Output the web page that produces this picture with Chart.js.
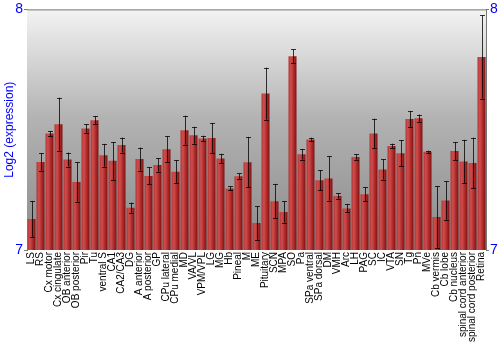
<!DOCTYPE html>
<html>
<head>
<meta charset="utf-8">
<script src="https://cdn.jsdelivr.net/npm/chart.js@4"></script>
<style>
  html, body { margin: 0; padding: 0; background: #fff; }
  #wrap { width: 500px; height: 350px; }
</style>
</head>
<body>
<div id="wrap"><canvas id="chart"></canvas></div>
<script>
// brain regions
const regions = ["LS", "RS", "Cx motor", "Cx cingulate", "OB anterior", "OB posterior", "Pir", "Tu",
  "ventral S", "CA1", "CA2/CA3", "DG", "A anterior", "A posterior", "GP", "CPu lateral", "CPu medial",
  "MD", "VA/VL", "VPM/VPL", "LG", "MG", "Hb", "Pineal", "M", "ME", "Pituitary", "SCN", "MPA", "SO",
  "Pa", "SPa ventral", "SPa dorsal", "DM", "VMH", "Arc", "LH", "PAG", "SC", "IC", "VTA", "SN", "Tg",
  "Pn", "MVe", "Cb vermis", "Cb lobe", "Cb nucleus", "spinal cord anterior", "spinal cord posterior", "Retina"];

// mean log2 expression
const expression = [7.129, 7.366, 7.484, 7.523, 7.376, 7.283, 7.505, 7.539,
  7.394, 7.371, 7.436, 7.176, 7.378, 7.308, 7.353, 7.419, 7.325,
  7.498, 7.477, 7.463, 7.465, 7.380, 7.256, 7.307, 7.365, 7.112, 7.650, 7.203, 7.158, 7.805,
  7.398, 7.459, 7.290, 7.297, 7.224, 7.173, 7.387, 7.232, 7.484, 7.335, 7.432, 7.402, 7.544,
  7.548, 7.408, 7.137, 7.206, 7.411, 7.368, 7.362, 7.802];

// error (+/-)
const errors = [0.075, 0.036, 0.011, 0.110, 0.029, 0.082, 0.017, 0.017,
  0.047, 0.078, 0.031, 0.021, 0.048, 0.035, 0.028, 0.053, 0.048,
  0.060, 0.035, 0.012, 0.063, 0.020, 0.008, 0.011, 0.105, 0.069, 0.108, 0.072, 0.044, 0.029,
  0.022, 0.008, 0.041, 0.092, 0.011, 0.017, 0.011, 0.028, 0.062, 0.042, 0.010, 0.054, 0.033,
  0.015, 0.005, 0.127, 0.080, 0.037, 0.090, 0.105, 0.173];

const yTicks = [7, 8];

const BLUE = "#0000ff";
const AXIS_GREY = "#777777";

// grey gradient behind the plot + frame
const plotBackground = {
  id: "plotBackground",
  beforeDatasetsDraw(chart) {
    const { ctx, chartArea: a } = chart;
    const g = ctx.createLinearGradient(0, a.top, 0, a.bottom);
    g.addColorStop(0, "#f3f3f3");
    g.addColorStop(0.45, "#b3b3b3");
    g.addColorStop(1, "#8a8a8a");
    ctx.save();
    ctx.fillStyle = g;
    ctx.fillRect(a.left, a.top, a.right - a.left, a.bottom - a.top);
    ctx.restore();
  },
  afterDraw(chart) {
    const { ctx, chartArea: a } = chart;
    ctx.save();
    ctx.strokeStyle = AXIS_GREY;
    ctx.lineWidth = 1;
    ctx.beginPath();
    ctx.moveTo(a.left, a.top + 0.5);
    ctx.lineTo(a.right, a.top + 0.5);
    ctx.stroke();
    ctx.restore();
  }
};

// error bars, drawn from the data through the scales
const errorBars = {
  id: "errorBars",
  afterDatasetsDraw(chart) {
    const { ctx } = chart;
    const x = chart.scales.x, y = chart.scales.y;
    ctx.save();
    ctx.strokeStyle = "rgba(0,0,0,0.78)";
    ctx.lineWidth = 1;
    expression.forEach((v, i) => {
      const cx = Math.round(x.getPixelForValue(i)) + 0.5;
      const top = y.getPixelForValue(v + errors[i]);
      const bot = y.getPixelForValue(v - errors[i]);
      ctx.beginPath();
      ctx.moveTo(cx, top);
      ctx.lineTo(cx, bot);
      ctx.moveTo(cx - 2.5, Math.round(top) + 0.5);
      ctx.lineTo(cx + 2.5, Math.round(top) + 0.5);
      ctx.moveTo(cx - 2.5, Math.round(bot) + 0.5);
      ctx.lineTo(cx + 2.5, Math.round(bot) + 0.5);
      ctx.stroke();
    });
    ctx.restore();
  }
};

// shaded red column
function barFill(context) {
  const chart = context.chart;
  const xs = chart.scales.x;
  if (!chart.chartArea || !xs) return "#b83232";
  const cx = xs.getPixelForValue(context.dataIndex);
  const g = chart.ctx.createLinearGradient(cx - 4, 0, cx + 4, 0);
  g.addColorStop(0, "#b23434");
  g.addColorStop(0.3, "#cf4e4e");
  g.addColorStop(0.65, "#b02a2a");
  g.addColorStop(1, "#7c1212");
  return g;
}

new Chart(document.getElementById("chart"), {
  type: "bar",
  data: {
    labels: regions,
    datasets: [{
      label: "Log2 (expression)",
      data: expression,
      backgroundColor: barFill,
      borderWidth: 0,
      categoryPercentage: 1,
      barPercentage: 0.89
    }]
  },
  options: {
    responsive: true,
    maintainAspectRatio: false,
    animation: false,
    layout: { padding: { top: 9, left: 0, right: 0, bottom: 0 } },
    plugins: {
      legend: { display: false },
      tooltip: { enabled: false }
    },
    scales: {
      x: {
        grid: { display: false, drawTicks: false },
        border: { display: false },
        ticks: {
          autoSkip: false,
          maxRotation: 90,
          minRotation: 90,
          padding: 2,
          color: "#000",
          font: { family: "Liberation Sans", size: 10 }
        },
        afterFit(scale) { scale.height = 100; }
      },
      y: {
        position: "left",
        min: 7,
        max: 8,
        afterBuildTicks(scale) { scale.ticks = yTicks.map(v => ({ value: v })); },
        grid: { drawOnChartArea: false, tickLength: 3, color: AXIS_GREY },
        border: { color: AXIS_GREY },
        ticks: {
          padding: 1,
          color: BLUE,
          font: { family: "Liberation Sans", size: 14 }
        },
        title: {
          display: true,
          text: "Log2 (expression)",
          color: BLUE,
          padding: { top: 2, bottom: 0 },
          font: { family: "Liberation Sans", size: 12 }
        },
        afterFit(scale) { scale.width = 27; }
      },
      y2: {
        position: "right",
        min: 7,
        max: 8,
        afterBuildTicks(scale) { scale.ticks = yTicks.map(v => ({ value: v })); },
        grid: { drawOnChartArea: false, tickLength: 3, color: AXIS_GREY },
        border: { color: AXIS_GREY },
        ticks: {
          padding: 1,
          color: BLUE,
          font: { family: "Liberation Sans", size: 14 }
        },
        afterFit(scale) { scale.width = 14; }
      }
    }
  },
  plugins: [plotBackground, errorBars]
});
</script>
</body>
</html>
